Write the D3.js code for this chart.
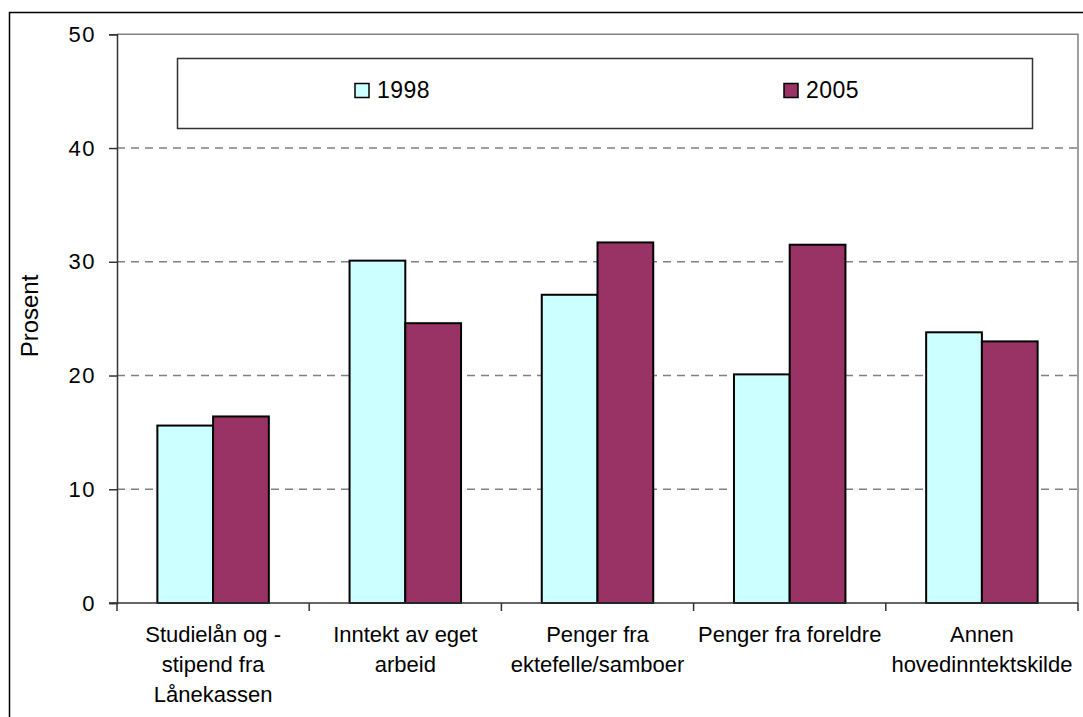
<!DOCTYPE html>
<html><head><meta charset="utf-8">
<script src="https://cdn.jsdelivr.net/npm/d3@7/dist/d3.min.js"></script>
<style>
html,body{margin:0;padding:0;background:#fff;}
svg{display:block;font-family:"Liberation Sans",Arial,sans-serif;}
</style></head>
<body>
<script>
const categories = [
  ["Studielån og -","stipend fra","Lånekassen"],
  ["Inntekt av eget","arbeid"],
  ["Penger fra","ektefelle/samboer"],
  ["Penger fra foreldre"],
  ["Annen","hovedinntektskilde"]
];
const seriesNames = ["1998","2005"];
const values1998 = [15.6, 30.1, 27.1, 20.1, 23.8];
const values2005 = [16.4, 24.6, 31.7, 31.5, 23.0];
const yTicks = [0,10,20,30,40,50];
const colors = ["#CCFFFF","#993366"];

const W=1083,H=717;
const svg=d3.select("body").append("svg").attr("width",W).attr("height",H);

// outer frame
svg.append("rect").attr("x",9.5).attr("y",12.5).attr("width",1200).attr("height",800)
  .attr("fill","none").attr("stroke","#000").attr("stroke-width",1.5);

const L=117,R=1078,T=34.3,B=603;
const y=d3.scaleLinear().domain([0,50]).range([B,T]);
const catIdx=d3.range(categories.length);
const x=d3.scaleBand().domain(catIdx).range([L,R]).paddingInner(0.42).paddingOuter(0.21);
const xs=d3.scaleBand().domain([0,1]).range([0,x.bandwidth()]);

// gridlines
svg.append("g").selectAll("line").data(yTicks.filter(t=>t>0&&t<50)).join("line")
  .attr("x1",L).attr("x2",R).attr("y1",d=>y(d)).attr("y2",d=>y(d))
  .attr("stroke","#808080").attr("stroke-width",1.5).attr("stroke-dasharray","8,6");

// plot border top/right
svg.append("path").attr("d",`M${L},${T}H${R}V${B}`).attr("fill","none").attr("stroke","#808080").attr("stroke-width",1.5);

// bars
const data=[values1998,values2005];
data.forEach((vals,s)=>{
  svg.append("g").selectAll("rect").data(vals).join("rect")
    .attr("x",(d,i)=>x(i)+xs(s)).attr("width",xs.bandwidth())
    .attr("y",d=>y(d)).attr("height",d=>B-y(d))
    .attr("fill",colors[s]).attr("stroke","#000").attr("stroke-width",2);
});

// y axis
const yAxis=d3.axisLeft(y).tickValues(yTicks).tickSize(8).tickPadding(13);
const gy=svg.append("g").attr("transform",`translate(${L},0)`).call(yAxis);
gy.select(".domain").attr("stroke","#333").attr("stroke-width",1.5);
gy.selectAll(".tick line").attr("stroke","#333").attr("stroke-width",1.5);
gy.selectAll("text").attr("font-size",22).attr("fill","#000").attr("letter-spacing","1.5px")
  .attr("font-family","Liberation Sans, Arial, sans-serif");

// x axis
const xt=d3.scaleLinear().domain([0,categories.length]).range([L,R]);
const gx=svg.append("g").attr("transform",`translate(0,${B})`);
gx.append("line").attr("x1",L-8).attr("x2",R).attr("stroke","#333").attr("stroke-width",1.5);
gx.selectAll(".tk").data(d3.range(categories.length+1)).join("line").attr("class","tk")
  .attr("x1",d=>xt(d)).attr("x2",d=>xt(d)).attr("y1",0).attr("y2",8).attr("stroke","#333").attr("stroke-width",1.5);
categories.forEach((lines,i)=>{
  const cx=(xt(i)+xt(i+1))/2;
  const t=svg.append("text").attr("text-anchor","middle").attr("font-size",22).attr("fill","#000");
  lines.forEach((ln,j)=>t.append("tspan").attr("x",cx).attr("y",B+39+j*30).text(ln));
});

// y label
svg.append("text").attr("transform",`translate(38,316) rotate(-90)`).attr("text-anchor","middle")
  .attr("font-size",24).attr("fill","#000").text("Prosent");

// legend
svg.append("rect").attr("x",177.5).attr("y",58.5).attr("width",855).attr("height",70)
  .attr("fill","#fff").attr("stroke","#333").attr("stroke-width",1.5);
const legX=[355,784];
seriesNames.forEach((n,s)=>{
  svg.append("rect").attr("x",legX[s]).attr("y",83.5).attr("width",14).attr("height",14)
    .attr("fill",colors[s]).attr("stroke","#000").attr("stroke-width",1.5);
  svg.append("text").attr("x",legX[s]+22).attr("y",97.5).attr("font-size",23).attr("letter-spacing","0.5px")
    .attr("fill","#000").text(n);
});
</script>
</body></html>
